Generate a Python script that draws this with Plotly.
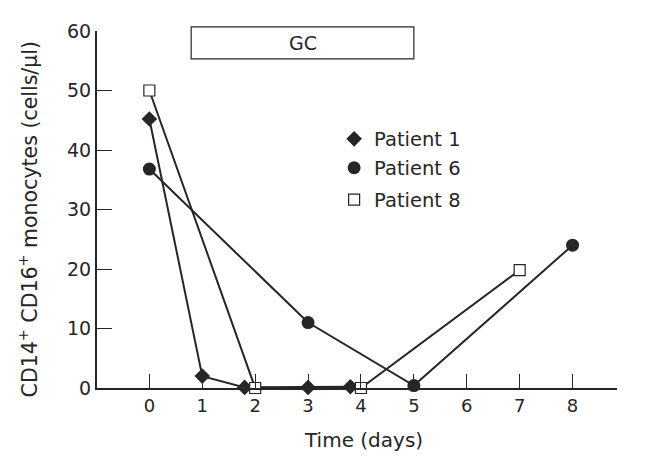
import plotly.graph_objects as go

# Data
p1_days = [0, 1, 1.8, 3, 3.8]
p1_vals = [45.2, 2.0, 0.1, 0.1, 0.2]
p6_days = [0, 3, 5, 8]
p6_vals = [36.8, 11.0, 0.4, 24.0]
p8_days = [0, 2, 4, 7]
p8_vals = [50.0, 0.0, 0.0, 19.8]
x_ticks = [0, 1, 2, 3, 4, 5, 6, 7, 8]
y_ticks = [0, 10, 20, 30, 40, 50, 60]
gc_span = [0.79, 5.0]

INK = "#262626"
FONT = "DejaVu Sans, Liberation Sans, Arial, sans-serif"

fig = go.Figure()
series = [
    ("Patient 1", p1_days, p1_vals, dict(symbol="diamond", size=12, color=INK, line=dict(width=0)), "legend"),
    ("Patient 6", p6_days, p6_vals, dict(symbol="circle", size=13, color=INK, line=dict(width=0)), "legend2"),
    ("Patient 8", p8_days, p8_vals, dict(symbol="square", size=11, color="white", line=dict(width=1.2, color=INK)), "legend3"),
]
for name, xs, ys, mk, leg in series:
    fig.add_trace(go.Scatter(x=xs, y=ys, mode="lines", line=dict(color=INK, width=2),
                             showlegend=False, hoverinfo="skip", cliponaxis=False))
for name, xs, ys, mk, leg in series:
    fig.add_trace(go.Scatter(x=xs, y=ys, mode="markers", name=name, marker=mk,
                             cliponaxis=False, legend=leg, showlegend=True))

fig.add_shape(type="rect", xref="x", yref="paper",
              x0=gc_span[0], x1=gc_span[1], y0=55.3 / 60, y1=60.7 / 60,
              line=dict(color=INK, width=1.2), fillcolor="white", layer="above")
fig.add_annotation(xref="x", yref="paper", x=sum(gc_span) / 2, y=58 / 60,
                   text="GC", showarrow=False, yanchor="middle",
                   font=dict(family=FONT, size=19, color=INK))

# axis titles as annotations (positioned like the reference)
fig.add_annotation(xref="paper", yref="paper", x=-0.131, y=0.472, textangle=-90,
                   text="CD14<sup>+</sup> CD16<sup>+</sup> monocytes (cells/µl)",
                   showarrow=False, xanchor="center", yanchor="middle",
                   font=dict(family=FONT, size=20.5, color=INK))
fig.add_annotation(xref="paper", yref="paper", x=0.512, y=-0.147,
                   text="Time (days)", showarrow=False, xanchor="center", yanchor="middle",
                   font=dict(family=FONT, size=20, color=INK))

leg_common = dict(xanchor="left", yanchor="middle", bgcolor="rgba(0,0,0,0)",
                  font=dict(family=FONT, size=19.5, color=INK), borderwidth=0)
fig.update_layout(
    width=647, height=465,
    margin=dict(l=89, r=38, t=20, b=85),
    paper_bgcolor="white", plot_bgcolor="white",
    showlegend=True,
    font=dict(family=FONT, size=19, color=INK),
    legend=dict(x=0.456, y=0.697, **leg_common),
    legend2=dict(x=0.456, y=0.616, **leg_common),
    legend3=dict(x=0.456, y=0.527, **leg_common),
    xaxis=dict(range=[-0.99, 8.84], tickvals=x_ticks, ticks="inside", ticklen=14,
               tickwidth=1.2, tickcolor=INK, showline=True, linecolor=INK, linewidth=2,
               showgrid=False, zeroline=False,
               tickfont=dict(family=FONT, size=18, color=INK)),
    yaxis=dict(range=[0, 60], tickvals=y_ticks, ticks="inside", ticklen=15,
               tickwidth=1.2, tickcolor=INK, showline=True, linecolor=INK, linewidth=2,
               showgrid=False, zeroline=False,
               tickfont=dict(family=FONT, size=19, color=INK)),
)

fig.write_html("out.html")
